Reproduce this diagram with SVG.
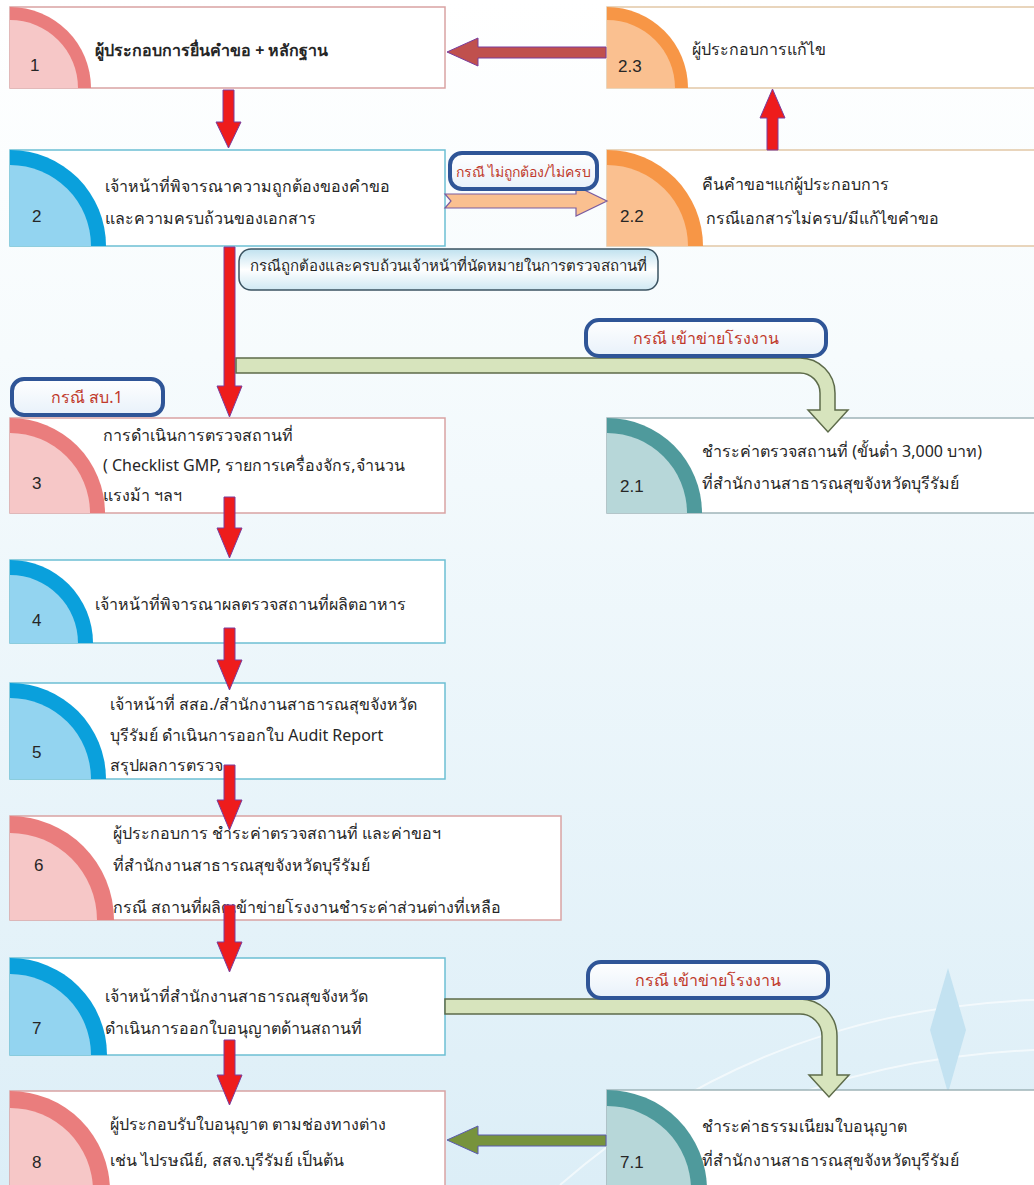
<svg xmlns="http://www.w3.org/2000/svg" width="1034" height="1185" viewBox="0 0 1034 1185">
<defs>
<linearGradient id="bg" x1="0" y1="0" x2="0" y2="1">
<stop offset="0" stop-color="#ffffff"/><stop offset="0.3" stop-color="#f6fbfd"/><stop offset="1" stop-color="#dcEEF7"/>
</linearGradient>
<linearGradient id="lbl" x1="0" y1="0" x2="0" y2="1">
<stop offset="0" stop-color="#ffffff"/><stop offset="1" stop-color="#e8f1fa"/>
</linearGradient>
<linearGradient id="lbl2" x1="0" y1="0" x2="0" y2="1">
<stop offset="0" stop-color="#bfe1ef"/><stop offset="0.5" stop-color="#ffffff"/><stop offset="1" stop-color="#cfe8f3"/>
</linearGradient>
<style>
.box{fill:#fff}
.pk{stroke:#d9a3a3;stroke-width:1.5}
.bl{stroke:#6cbfd3;stroke-width:1.5}
.or{stroke:#e2c7a6;stroke-width:1.5}
.tl{stroke:#9fb4b8;stroke-width:1.5}
.t{font-family:"Noto Sans","DejaVu Sans","Liberation Sans",sans-serif;font-size:16px;fill:#262626}
.n{font-family:"Liberation Sans","DejaVu Sans",sans-serif;font-size:17px;fill:#262626}
.lb{font-family:"Noto Sans","DejaVu Sans","Liberation Sans",sans-serif;font-size:16px;fill:#c0392b}
.lt{fill:url(#lbl);stroke:#2f5597;stroke-width:4}
.red{fill:#ee1c1c;stroke:#7a3c9c;stroke-width:1}
.grn{fill:#d7e4bd;stroke:#5d6b4a;stroke-width:1.5}
</style>
</defs>
<rect width="1034" height="1185" fill="url(#bg)"/>
<g opacity="0.6" fill="none" stroke="#ffffff" stroke-width="2">
<path d="M560 1185 Q 760 1010 1034 1000"/>
<path d="M620 1185 Q 800 1060 1034 1050"/>
<path d="M680 1185 Q 860 1110 1034 1100"/>
</g>
<path d="M948 968 L966 1030 L948 1093 L930 1030 Z" fill="#c3e2f1"/>

<g id="node1">
<rect class="box pk" x="10" y="7" width="435" height="81"/>
<path d="M10 88 V7 A81 81 0 0 1 91 88 Z" fill="#ea7d7d"/>
<path d="M10 88 V20 A68 68 0 0 1 78 88 Z" fill="#f6c7c7"/>
<text class="n" x="30" y="71">1</text>
<text class="t" x="95" y="56" font-weight="bold">ผู้ประกอบการยื่นคำขอ + หลักฐาน</text>
</g>

<g id="node2_3">
<rect class="box or" x="607" y="7" width="440" height="81"/>
<path d="M607 88 V7 A81 81 0 0 1 688 88 Z" fill="#f79646"/>
<path d="M607 88 V20 A68 68 0 0 1 675 88 Z" fill="#fac090"/>
<text class="n" x="618" y="72">2.3</text>
<text class="t" x="692" y="55">ผู้ประกอบการแก้ไข</text>
</g>

<g id="node2">
<rect class="box bl" x="10" y="150" width="435" height="96"/>
<path d="M10 246 V150 A96 96 0 0 1 106 246 Z" fill="#0aa0dc"/>
<path d="M10 246 V165 A81 81 0 0 1 91 246 Z" fill="#93d4f0"/>
<text class="n" x="32" y="222">2</text>
<text class="t" x="105" y="192">เจ้าหน้าที่พิจารณาความถูกต้องของคำขอ</text>
<text class="t" x="105" y="224">และความครบถ้วนของเอกสาร</text>
</g>

<g id="node2_2">
<rect class="box or" x="607" y="150" width="440" height="96"/>
<path d="M607 246 V150 A96 96 0 0 1 703 246 Z" fill="#f79646"/>
<path d="M607 246 V165 A81 81 0 0 1 688 246 Z" fill="#fac090"/>
<text class="n" x="620" y="222">2.2</text>
<text class="t" x="702" y="190">คืนคำขอฯแก่ผู้ประกอบการ</text>
<text class="t" x="706" y="224">กรณีเอกสารไม่ครบ/มีแก้ไขคำขอ</text>
</g>

<g id="node2_1">
<rect class="box tl" x="607" y="418" width="440" height="95"/>
<path d="M607 513 V418 A95 95 0 0 1 702 513 Z" fill="#4f9a9c"/>
<path d="M607 513 V433 A80 80 0 0 1 687 513 Z" fill="#b7d7d9"/>
<text class="n" x="620" y="492">2.1</text>
<text class="t" x="702" y="457">ชำระค่าตรวจสถานที่ (ขั้นต่ำ 3,000 บาท)</text>
<text class="t" x="702" y="489">ที่สำนักงานสาธารณสุขจังหวัดบุรีรัมย์</text>
</g>

<g id="node3">
<rect class="box pk" x="10" y="418" width="435" height="95"/>
<path d="M10 513 V418 A95 95 0 0 1 105 513 Z" fill="#ea7d7d"/>
<path d="M10 513 V433 A80 80 0 0 1 90 513 Z" fill="#f6c7c7"/>
<text class="n" x="32" y="489">3</text>
<text class="t" x="103" y="441">การดำเนินการตรวจสถานที่</text>
<text class="t" x="103" y="471">( Checklist GMP, รายการเครื่องจักร,จำนวน</text>
<text class="t" x="103" y="501">แรงม้า ฯลฯ</text>
</g>

<g id="node4">
<rect class="box bl" x="10" y="560" width="435" height="83"/>
<path d="M10 643 V560 A83 83 0 0 1 93 643 Z" fill="#0aa0dc"/>
<path d="M10 643 V575 A68 68 0 0 1 78 643 Z" fill="#93d4f0"/>
<text class="n" x="32" y="626">4</text>
<text class="t" x="95" y="610">เจ้าหน้าที่พิจารณาผลตรวจสถานที่ผลิตอาหาร</text>
</g>

<g id="node5">
<rect class="box bl" x="10" y="683" width="435" height="96"/>
<path d="M10 779 V683 A96 96 0 0 1 106 779 Z" fill="#0aa0dc"/>
<path d="M10 779 V698 A81 81 0 0 1 91 779 Z" fill="#93d4f0"/>
<text class="n" x="32" y="758">5</text>
<text class="t" x="110" y="710">เจ้าหน้าที่ สสอ./สำนักงานสาธารณสุขจังหวัด</text>
<text class="t" x="110" y="741">บุรีรัมย์ ดำเนินการออกใบ Audit Report</text>
<text class="t" x="110" y="771">สรุปผลการตรวจ</text>
</g>

<g id="node6">
<rect class="box pk" x="10" y="816" width="551" height="104"/>
<path d="M10 920 V816 A104 104 0 0 1 114 920 Z" fill="#ea7d7d"/>
<path d="M10 920 V833 A87 87 0 0 1 97 920 Z" fill="#f6c7c7"/>
<text class="n" x="34" y="871">6</text>
<text class="t" x="113" y="839">ผู้ประกอบการ ชำระค่าตรวจสถานที่ และค่าขอฯ</text>
<text class="t" x="113" y="871">ที่สำนักงานสาธารณสุขจังหวัดบุรีรัมย์</text>
<text class="t" x="113" y="913">กรณี สถานที่ผลิตเข้าข่ายโรงงานชำระค่าส่วนต่างที่เหลือ</text>
</g>

<g id="node7">
<rect class="box bl" x="10" y="958" width="435" height="97"/>
<path d="M10 1055 V958 A97 97 0 0 1 107 1055 Z" fill="#0aa0dc"/>
<path d="M10 1055 V974 A81 81 0 0 1 91 1055 Z" fill="#93d4f0"/>
<text class="n" x="32" y="1034">7</text>
<text class="t" x="105" y="1002">เจ้าหน้าที่สำนักงานสาธารณสุขจังหวัด</text>
<text class="t" x="105" y="1034">ดำเนินการออกใบอนุญาตด้านสถานที่</text>
</g>

<g id="node8">
<rect class="box pk" x="10" y="1091" width="435" height="100"/>
<path d="M10 1191 V1091 A100 100 0 0 1 110 1191 Z" fill="#ea7d7d"/>
<path d="M10 1191 V1108 A83 83 0 0 1 93 1191 Z" fill="#f6c7c7"/>
<text class="n" x="32" y="1168">8</text>
<text class="t" x="110" y="1130">ผู้ประกอบรับใบอนุญาต ตามช่องทางต่าง</text>
<text class="t" x="110" y="1166">เช่น ไปรษณีย์, สสจ.บุรีรัมย์ เป็นต้น</text>
</g>

<g id="node7_1">
<rect class="box tl" x="607" y="1090" width="440" height="100"/>
<path d="M607 1190 V1090 A100 100 0 0 1 707 1190 Z" fill="#4f9a9c"/>
<path d="M607 1190 V1106 A84 84 0 0 1 691 1190 Z" fill="#b7d7d9"/>
<text class="n" x="620" y="1168">7.1</text>
<text class="t" x="702" y="1132">ชำระค่าธรรมเนียมใบอนุญาต</text>
<text class="t" x="702" y="1166">ที่สำนักงานสาธารณสุขจังหวัดบุรีรัมย์</text>
</g>

<g id="connectors">
<!-- 2.3 -> 1 -->
<path d="M606 47 V58 H478 V66 L447 52 L478 38 V47 Z" fill="#c0504d" stroke="#7a3c9c" stroke-width="1"/>
<!-- 1 -> 2 -->
<path class="red" d="M223 90 H234 V122 H241 L228.5 148 L216 122 H223 Z"/>
<!-- 2 -> 2.2 -->
<path d="M445 194 H576 V186 L607 201 L576 216 V208 H445 L451 201 Z" fill="#fac090" stroke="#7a5ca0" stroke-width="1.2"/>
<!-- 2.2 -> 2.3 -->
<path d="M767 150 V118 H760 L772.5 89 L785 118 H778 V150 Z" class="red"/>
<!-- 2 -> 3 -->
<path class="red" d="M224 247 H235 V386 H242 L229.5 417 L217 386 H224 Z"/>
<!-- green 2 -> 2.1 -->
<path class="grn" d="M236 358 H800 A35 35 0 0 1 835 393 V410 H848 L828 432 L808 410 H820 V393 A20 20 0 0 0 800 373 H236 Z"/>
<!-- 3 -> 4 -->
<path class="red" d="M224 497 H235 V528 H242 L229.5 558 L217 528 H224 Z"/>
<!-- 4 -> 5 -->
<path class="red" d="M224 628 H235 V660 H242 L229.5 690 L217 660 H224 Z"/>
<!-- 5 -> 6 -->
<path class="red" d="M224 765 H235 V800 H242 L229.5 830 L217 800 H224 Z"/>
<!-- 6 -> 7 -->
<path class="red" d="M224 905 H235 V942 H242 L229.5 972 L217 942 H224 Z"/>
<!-- 7 -> 8 -->
<path class="red" d="M224 1040 H235 V1075 H242 L229.5 1105 L217 1075 H224 Z"/>
<!-- green 7 -> 7.1 -->
<path class="grn" d="M445 999 H800 A37 37 0 0 1 837 1036 V1075 H849 L829 1097 L809 1075 H822 V1036 A22 22 0 0 0 800 1014 H445 Z"/>
<!-- 7.1 -> 8 -->
<path d="M606 1135 V1146 H478 V1154 L447 1140 L478 1126 V1135 Z" fill="#77933c" stroke="#5a5ab0" stroke-width="1"/>

<!-- labels -->
<rect x="450" y="153" width="147" height="36" rx="12" class="lt"/>
<text class="lb" x="523.5" y="177" text-anchor="middle" style="font-size:14px">กรณี ไม่ถูกต้อง/ไม่ครบ</text>
<rect x="239" y="249" width="419" height="41" rx="12" fill="url(#lbl2)" stroke="#3b5361" stroke-width="1.5"/>
<text class="t" x="448" y="271" text-anchor="middle" style="font-size:15px">กรณีถูกต้องและครบถ้วนเจ้าหน้าที่นัดหมายในการตรวจสถานที่</text>
<rect x="586" y="320" width="240" height="36" rx="13" class="lt"/>
<text class="lb" x="706" y="344" text-anchor="middle">กรณี เข้าข่ายโรงงาน</text>
<rect x="12" y="379" width="151" height="36" rx="12" class="lt"/>
<text class="lb" x="87" y="403" text-anchor="middle">กรณี สบ.1</text>
<rect x="588" y="962" width="240" height="36" rx="13" class="lt"/>
<text class="lb" x="708" y="986" text-anchor="middle">กรณี เข้าข่ายโรงงาน</text>
</g>
</svg>
